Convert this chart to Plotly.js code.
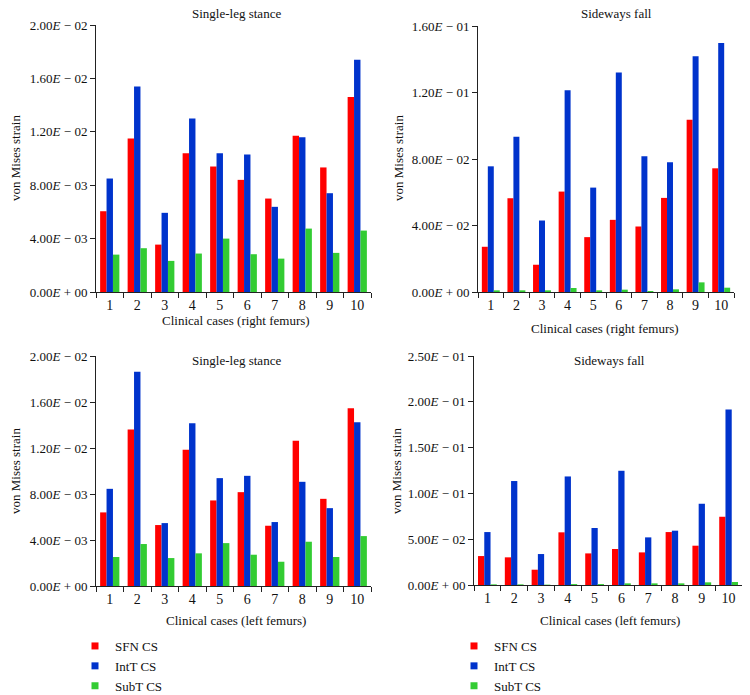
<!DOCTYPE html>
<html>
<head>
<meta charset="utf-8">
<script src="https://cdn.plot.ly/plotly-3.0.1.min.js"></script>
<style>
  html, body { margin: 0; padding: 0; background: #fff; }
  #chart { width: 750px; height: 695px; }
</style>
</head>
<body>
<div id="chart"></div>
<script>
document.addEventListener('DOMContentLoaded', function() {
    var cases = ['1', '2', '3', '4', '5', '6', '7', '8', '9', '10'];
    var seriesNames = ['SFN CS', 'IntT CS', 'SubT CS'];
    var seriesColors = ['#ff0000', '#0033cc', '#33cc33'];

    // right femurs, single-leg stance
    var rightStanceSFN  = [0.00605, 0.0115, 0.00355, 0.0104, 0.0094, 0.0084, 0.0070, 0.0117, 0.00933, 0.0146];
    var rightStanceIntT = [0.0085, 0.0154, 0.00593, 0.0130, 0.0104, 0.0103, 0.00638, 0.0116, 0.0074, 0.0174];
    var rightStanceSubT = [0.0028, 0.00328, 0.00233, 0.00288, 0.0040, 0.00283, 0.0025, 0.00475, 0.00293, 0.0046];

    // right femurs, sideways fall
    var rightFallSFN  = [0.0272, 0.0564, 0.0164, 0.0604, 0.0330, 0.0434, 0.0394, 0.0566, 0.1036, 0.0744];
    var rightFallIntT = [0.0756, 0.0934, 0.0430, 0.1214, 0.0628, 0.1320, 0.0816, 0.0780, 0.1418, 0.1498];
    var rightFallSubT = [0.0010, 0.0010, 0.0010, 0.0024, 0.0010, 0.0014, 0.0006, 0.0016, 0.0058, 0.0026];

    // left femurs, single-leg stance
    var leftStanceSFN  = [0.0064, 0.0136, 0.0053, 0.01184, 0.00744, 0.00816, 0.00524, 0.01262, 0.00758, 0.01546];
    var leftStanceIntT = [0.00845, 0.01864, 0.00547, 0.01415, 0.00938, 0.00958, 0.00556, 0.00906, 0.00677, 0.01424];
    var leftStanceSubT = [0.00252, 0.00365, 0.00243, 0.00284, 0.00373, 0.00272, 0.00211, 0.00385, 0.00252, 0.00434];

    // left femurs, sideways fall
    var leftFallSFN  = [0.0316, 0.0302, 0.0167, 0.0575, 0.0345, 0.0393, 0.0356, 0.0578, 0.0429, 0.0745];
    var leftFallIntT = [0.0578, 0.1135, 0.0338, 0.1185, 0.0622, 0.1247, 0.0520, 0.0593, 0.0887, 0.1916];
    var leftFallSubT = [0.0007, 0.0007, 0.0004, 0.0010, 0.0010, 0.0018, 0.0018, 0.0018, 0.0029, 0.0033];

    var stanceTicks = [0, 0.004, 0.008, 0.012, 0.016, 0.02];
    var stanceTickText = ['0.00<i>E</i> + 00', '4.00<i>E</i> − 03', '8.00<i>E</i> − 03',
                          '1.20<i>E</i> − 02', '1.60<i>E</i> − 02', '2.00<i>E</i> − 02'];
    var rightFallTicks = [0, 0.04, 0.08, 0.12, 0.16];
    var rightFallTickText = ['0.00<i>E</i> + 00', '4.00<i>E</i> − 02', '8.00<i>E</i> − 02',
                             '1.20<i>E</i> − 01', '1.60<i>E</i> − 01'];
    var leftFallTicks = [0, 0.05, 0.1, 0.15, 0.2, 0.25];
    var leftFallTickText = ['0.00<i>E</i> + 00', '5.00<i>E</i> − 02', '1.00<i>E</i> − 01',
                            '1.50<i>E</i> − 01', '2.00<i>E</i> − 01', '2.50<i>E</i> − 01'];

    var panels = [
        { ax: '',  series: [rightStanceSFN, rightStanceIntT, rightStanceSubT] },
        { ax: '2', series: [rightFallSFN, rightFallIntT, rightFallSubT] },
        { ax: '3', series: [leftStanceSFN, leftStanceIntT, leftStanceSubT] },
        { ax: '4', series: [leftFallSFN, leftFallIntT, leftFallSubT] }
    ];

    var data = [];
    panels.forEach(function(p) {
        for (var i = 0; i < 3; i++) {
            data.push({
                type: 'bar',
                x: cases,
                y: p.series[i],
                name: seriesNames[i],
                xaxis: 'x' + p.ax,
                yaxis: 'y' + p.ax,
                marker: { color: seriesColors[i], line: { width: 0 } },
                showlegend: false,
                hoverinfo: 'x+y+name'
            });
        }
    });

    // legend entries (small squares), one legend under each column
    ['legend', 'legend2'].forEach(function(lg) {
        for (var i = 0; i < 3; i++) {
            data.push({
                type: 'scatter',
                mode: 'markers',
                x: [null],
                y: [null],
                name: seriesNames[i],
                legend: lg,
                marker: { symbol: 'square', size: 7, color: seriesColors[i] },
                showlegend: true
            });
        }
    });

    var font = { family: '"Liberation Serif", "Times New Roman", serif', size: 13, color: '#111' };

    function xAxis(domain, anchor) {
        return {
            domain: domain,
            anchor: anchor,
            type: 'category',
            showline: true, linecolor: '#222', linewidth: 1,
            ticks: 'outside', ticklen: 5, tickcolor: '#222',
            tickson: 'boundaries',
            showgrid: false, zeroline: false,
            tickfont: { family: font.family, size: 14, color: '#111' },
            fixedrange: true
        };
    }
    function yAxis(domain, anchor, range, vals, text) {
        return {
            domain: domain,
            anchor: anchor,
            range: range,
            tickvals: vals,
            ticktext: text,
            showline: true, linecolor: '#222', linewidth: 1,
            ticks: 'outside', ticklen: 5, tickcolor: '#222',
            showgrid: false, zeroline: false,
            tickfont: { family: font.family, size: 13, color: '#111' },
            fixedrange: true
        };
    }

    var W = 750, H = 695;
    function px(x) { return x / W; }
    function py(y) { return 1 - y / H; }

    function note(text, x, y, angle) {
        return {
            text: text, xref: 'paper', yref: 'paper',
            x: px(x), y: py(y), xanchor: 'center', yanchor: 'middle',
            showarrow: false, textangle: angle || 0,
            font: font
        };
    }

    var layout = {
        width: W, height: H,
        margin: { l: 0, r: 0, t: 0, b: 0, autoexpand: false },
        paper_bgcolor: '#fff', plot_bgcolor: '#fff',
        font: font,
        barmode: 'group',
        bargap: 0.3,
        bargroupgap: 0,
        xaxis:  xAxis([px(96), px(371)], 'y'),
        yaxis:  yAxis([py(292), py(25)], 'x', [0, 0.02], stanceTicks, stanceTickText),
        xaxis2: xAxis([px(478), px(734)], 'y2'),
        yaxis2: yAxis([py(292), py(26)], 'x2', [0, 0.16], rightFallTicks, rightFallTickText),
        xaxis3: xAxis([px(96), px(371)], 'y3'),
        yaxis3: yAxis([py(586), py(356)], 'x3', [0, 0.02], stanceTicks, stanceTickText),
        xaxis4: xAxis([px(474), px(742)], 'y4'),
        yaxis4: yAxis([py(585), py(356)], 'x4', [0, 0.25], leftFallTicks, leftFallTickText),
        legend: {
            x: px(75), y: py(631), xanchor: 'left', yanchor: 'top',
            bgcolor: 'rgba(0,0,0,0)', font: font, tracegroupgap: 0
        },
        legend2: {
            x: px(454), y: py(631), xanchor: 'left', yanchor: 'top',
            bgcolor: 'rgba(0,0,0,0)', font: font, tracegroupgap: 0
        },
        annotations: [
            note('Single-leg stance', 236, 14),
            note('Sideways fall', 616, 14),
            note('Single-leg stance', 236, 360),
            note('Sideways fall', 609, 360),
            note('Clinical cases (right femurs)', 236, 321),
            note('Clinical cases (right femurs)', 605, 328),
            note('Clinical cases (left femurs)', 236, 620),
            note('Clinical cases (left femurs)', 610, 620),
            note('von Mises strain', 15, 158, -90),
            note('von Mises strain', 398, 158, -90),
            note('von Mises strain', 15, 471, -90),
            note('von Mises strain', 396, 471, -90)
        ]
    };

    Plotly.newPlot('chart', data, layout, { displayModeBar: false, staticPlot: true });
});
</script>
</body>
</html>
